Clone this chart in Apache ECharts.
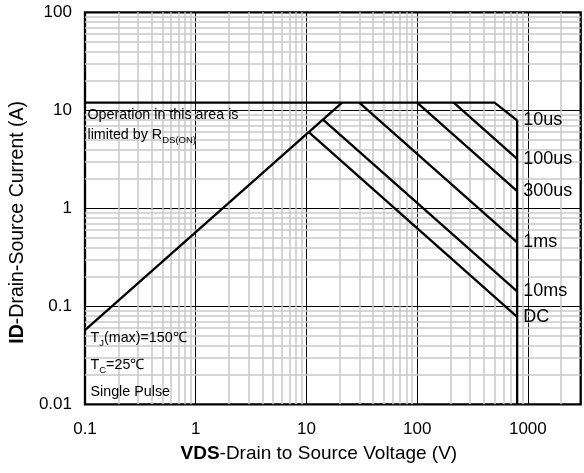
<!DOCTYPE html>
<html>
<head>
<meta charset="utf-8">
<script src="https://cdn.jsdelivr.net/npm/echarts@6/dist/echarts.min.js"></script>
<style>
html,body{margin:0;padding:0;background:#fff;}
#chart{width:584px;height:473px;}
</style>
</head>
<body>
<div id="chart"></div>
<script>
// ---- data ----
const xTickLabels = ['0.1', '1', '10', '100', '1000'];
const yTickLabels = ['0.01', '0.1', '1', '10', '100'];
const xRange = [0.1, 3000];
const yRange = [0.01, 100];

const rdsLimit = [[0.1, 0.057], [21, 12]];
const curve10us = [[0.1, 12], [500, 12], [800, 7.9]];
const vdsLimit = [[800, 7.9], [800, 0.01]];
const curve100us = [[214, 12], [800, 3.2]];
const curve300us = [[100, 12], [800, 1.5]];
const curve1ms = [[30, 12], [800, 0.45]];
const curve10ms = [[14.2, 8.0], [800, 0.142]];
const curveDC = [[10.5, 6.0], [800, 0.078]];

const curveNames = ['10us', '100us', '300us', '1ms', '10ms', 'DC'];

// ---- minor grid values (2..9 per decade) ----
function minorVals(lo, hi) {
  const out = [];
  for (let e = Math.floor(Math.log10(lo)); e <= Math.ceil(Math.log10(hi)); e++) {
    for (let m = 2; m <= 9; m++) {
      const v = parseFloat((m * Math.pow(10, e)).toPrecision(6));
      if (v > lo && v < hi) out.push(v);
    }
  }
  return out;
}
const xMinor = minorVals(xRange[0], xRange[1]);
const yMinor = minorVals(yRange[0], yRange[1]);

function fmt(v) { return parseFloat(Number(v).toPrecision(4)).toString(); }

const FONT = 'Liberation Sans, Arial, sans-serif';
const lineStyle = { color: '#000', width: 2.3 };

function curveSeries(data, name) {
  return {
    type: 'line', name: name, silent: true, symbol: 'none', z: 5,
    lineStyle: lineStyle, animation: false, data: data,
    endLabel: { show: true, distance: 6, formatter: name,
      color: '#000', fontSize: 18, fontFamily: FONT }
  };
}

const curves = [curve10us, curve100us, curve300us, curve1ms, curve10ms, curveDC];

const series = [
  {
    type: 'line', data: [], silent: true, z: 1, animation: false,
    markLine: {
      silent: true, symbol: ['none', 'none'], animation: false,
      label: { show: false },
      lineStyle: { color: '#c8c8c8', width: 1.5, type: 'solid' },
      emphasis: { disabled: true },
      data: xMinor.map(v => ({ xAxis: v })).concat(yMinor.map(v => ({ yAxis: v })))
    }
  },
  {
    type: 'line', silent: true, symbol: 'none', z: 5, animation: false,
    lineStyle: lineStyle, data: rdsLimit
  },
  {
    type: 'line', silent: true, symbol: 'none', z: 5, animation: false,
    lineStyle: lineStyle, data: vdsLimit
  }
].concat(curves.map((c, i) => curveSeries(c, curveNames[i])));

const chart = echarts.init(document.getElementById('chart'), null, { renderer: 'canvas' });
chart.setOption({
  backgroundColor: '#fff',
  animation: false,
  grid: {
    left: 83.5, top: 12.3, right: 3.3, bottom: 68.7,
    show: true, borderColor: '#000', borderWidth: 2.3, backgroundColor: 'transparent'
  },
  xAxis: {
    type: 'log', logBase: 10, min: xRange[0], max: xRange[1],
    axisLine: { show: false }, axisTick: { show: false },
    splitLine: { show: true, lineStyle: { color: '#000', width: 1 } },
    axisLabel: {
      show: true, margin: 17, color: '#000', fontSize: 17, fontFamily: FONT,
      showMaxLabel: false,
      formatter: v => { const s = fmt(v); return xTickLabels.indexOf(s) >= 0 ? s : ''; }
    },
    name: '{b|VDS}-Drain to Source Voltage (V)',
    nameLocation: 'middle', nameGap: 40,
    nameTextStyle: {
      color: '#000', fontSize: 19, fontFamily: FONT, padding: [0, 28, 0, 0],
      rich: { b: { fontWeight: 'bold', fontSize: 19, fontFamily: FONT, color: '#000' } }
    }
  },
  yAxis: {
    type: 'log', logBase: 10, min: yRange[0], max: yRange[1],
    axisLine: { show: false }, axisTick: { show: false },
    splitLine: { show: true, lineStyle: { color: '#000', width: 1 } },
    axisLabel: {
      show: true, margin: 13, color: '#000', fontSize: 17, fontFamily: FONT,
      formatter: v => { const s = fmt(v); return yTickLabels.indexOf(s) >= 0 ? s : ''; }
    },
    name: '{b|ID}-Drain-Source Current (A)',
    nameLocation: 'middle', nameGap: 50, nameRotate: 90,
    nameTextStyle: {
      color: '#000', fontSize: 19.5, fontFamily: FONT, padding: [0, 28, 0, 0],
      rich: { b: { fontWeight: 'bold', fontSize: 19.5, fontFamily: FONT, color: '#000' } }
    }
  },
  graphic: [
    { type: 'text', left: 87.5, top: 108, silent: true, z: 10,
      style: { text: 'Operation in this area is', fill: '#000', font: '14.3px ' + FONT } },
    { type: 'text', left: 87.5, top: 128, silent: true, z: 10,
      style: { text: '{n|limited by R}{s|DS(ON)}', fill: '#000',
        rich: { n: { fontSize: 14.3, fontFamily: FONT, fill: '#000', verticalAlign: 'bottom', padding: [0, 0, 3, 0] },
                s: { fontSize: 9.5, fontFamily: FONT, fill: '#000', verticalAlign: 'bottom' } } } },
    { type: 'text', left: 90.5, top: 331, silent: true, z: 10,
      style: { text: '{n|T}{s|J}{n|(max)=150℃}', fill: '#000',
        rich: { n: { fontSize: 14.3, fontFamily: FONT, fill: '#000', verticalAlign: 'bottom', padding: [0, 0, 3, 0] },
                s: { fontSize: 9.5, fontFamily: FONT, fill: '#000', verticalAlign: 'bottom' } } } },
    { type: 'text', left: 90.5, top: 358, silent: true, z: 10,
      style: { text: '{n|T}{s|C}{n|=25℃}', fill: '#000',
        rich: { n: { fontSize: 14.3, fontFamily: FONT, fill: '#000', verticalAlign: 'bottom', padding: [0, 0, 3, 0] },
                s: { fontSize: 9.5, fontFamily: FONT, fill: '#000', verticalAlign: 'bottom' } } } },
    { type: 'text', left: 90.5, top: 385, silent: true, z: 10,
      style: { text: 'Single Pulse', fill: '#000', font: '14.3px ' + FONT } }
  ],
  series: series
});
</script>
</body>
</html>
